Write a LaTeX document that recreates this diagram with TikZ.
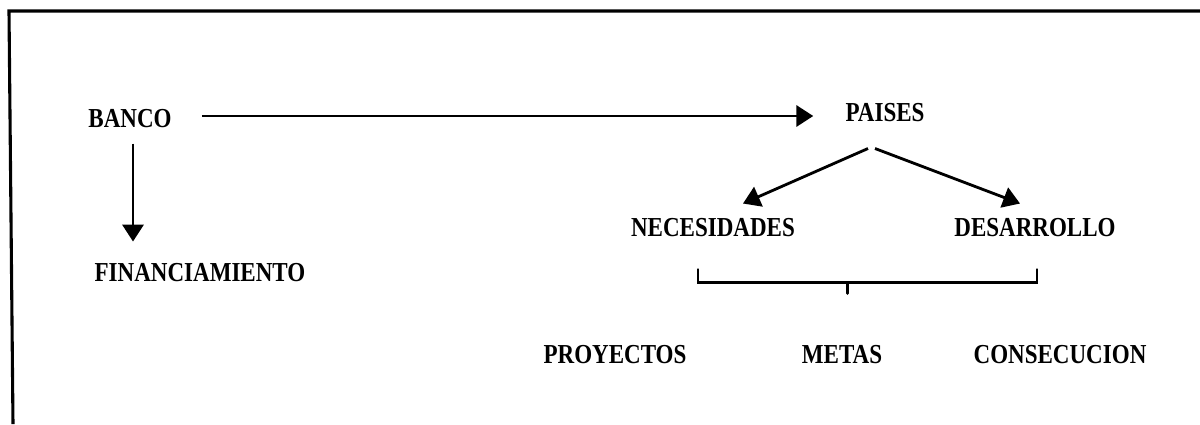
\documentclass[tikz,border=0pt]{standalone}
\usepackage{fontspec}
\setmainfont{Liberation Serif}
\newfontfamily\lblfont[FakeStretch=0.84]{Liberation Serif}
\usetikzlibrary{
  arrows.meta,
  positioning,
  calc
}

\begin{document}
\begin{tikzpicture}[
      x=0.025cm, y=-0.025cm,
      >={Triangle[length=12pt, width=15pt]},
      every node/.style={
        inner sep=0pt,
        font=\lblfont\bfseries\fontsize{19.5}{21}\selectfont
      },
      arr/.style={->, line width=2pt},
      frame/.style={line width=2.2pt},
      brace/.style={line width=2pt, line cap=round}
      ]

      \useasboundingbox (0,0) rectangle (1200,424);
      \draw[frame] (1200,11) -- (9,11) -- (13,424);

      \node (banco) at (130,119) {BANCO};
      \node (financiamiento) at (200,273) {FINANCIAMIENTO};
      \node (paises) at (885,113) {PAISES};
      \node (necesidades) at (713,228) {NECESIDADES};
      \node (desarrollo) at (1035,228) {DESARROLLO};

      \foreach \name/\x/\txt in {proyectos/615/PROYECTOS, metas/842/METAS,
        consecucion/1060/CONSECUCION}{
        \node (\name) at (\x,355) {\txt};
      }

      \draw[arr] ([shift={(30,-3)}]banco.east) -- ([shift={(-32,3)}]paises.west);
      \draw[arr] ([shift={(3,15)}]banco.south) -- ([shift={(3,-22)}]banco.south |- financiamiento.north);
      \draw[arr] ([shift={(-17,26)}]paises.south) -- ([shift={(30,-15)}]necesidades.north);
      \draw[arr] ([shift={(-10,26)}]paises.south) -- ([shift={(-15,-15)}]desarrollo.north);

      \coordinate (bl) at ([shift={(-15,32)}]necesidades.south);
      \coordinate (br) at ([shift={(2,32)}]desarrollo.south);
      \draw[brace] (bl) -- ++(0,13) coordinate (bl2) -- (bl2 -| br) -- (br);
      \draw[brace] ($(bl2)!0.442!(bl2 -| br)$) -- ++(0,11);
    \end{tikzpicture}
\end{document}
